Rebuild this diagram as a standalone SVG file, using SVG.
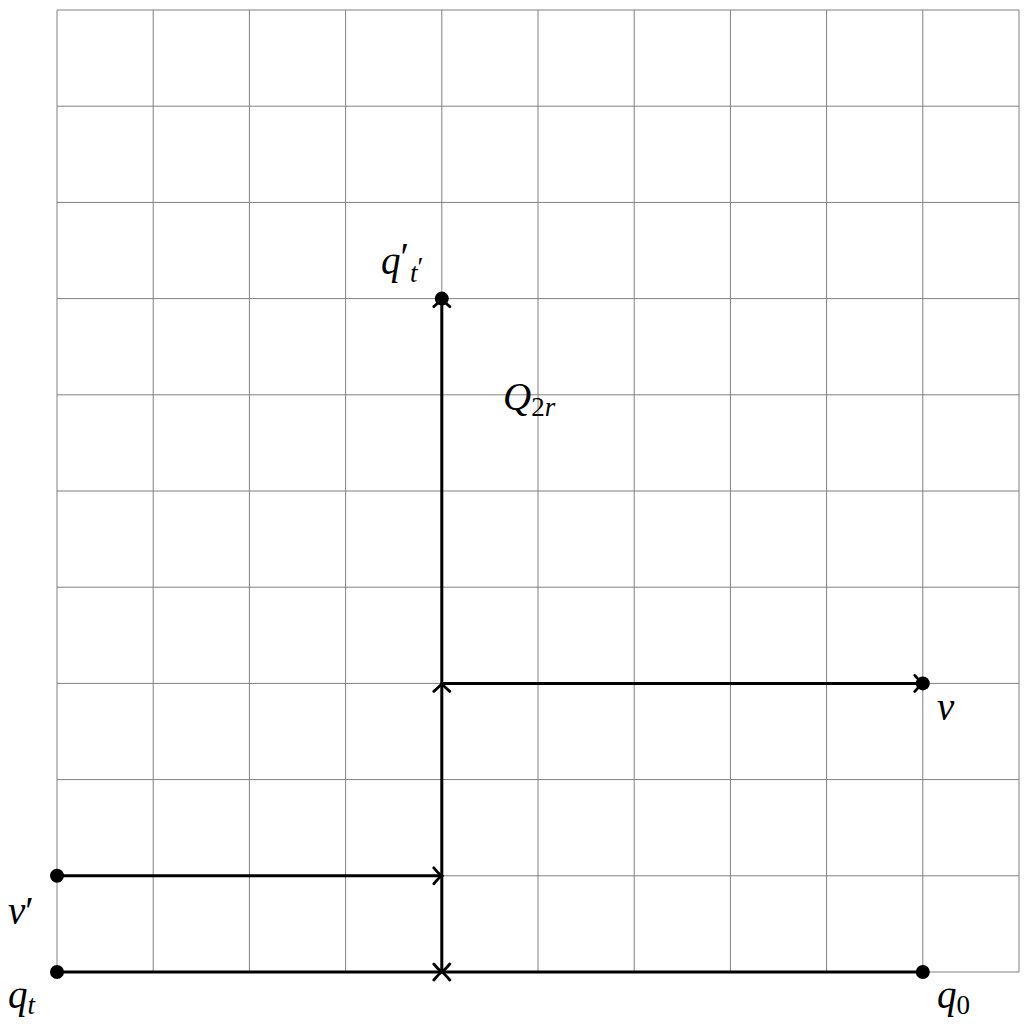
<svg xmlns="http://www.w3.org/2000/svg" width="1024" height="1024" viewBox="0 0 1024 1024">
<defs>
<marker id="to" viewBox="-10 -10 12 20" markerWidth="12" markerHeight="20" refX="0" refY="0" orient="auto" markerUnits="userSpaceOnUse">
<path d="M-8,-8 Q-2,-1 0,0 Q-2,1 -8,8" fill="none" stroke="#000" stroke-width="2.8" stroke-linecap="round"/>
</marker>
</defs>
<style>
.grid line{stroke:#808080;stroke-width:1}
.e{stroke:#000;stroke-width:3;fill:none;marker-end:url(#to)}
.d{fill:#000}
.l{font-family:"Liberation Serif","DejaVu Serif",serif;font-style:italic;font-size:39px;fill:#000}
.s{font-size:27px}
.n{font-style:normal}
</style>
<rect width="1024" height="1024" fill="#fff"/>
<g class="grid">
<line x1="57" y1="10" x2="57" y2="972"/><line x1="153.2" y1="10" x2="153.2" y2="972"/><line x1="249.4" y1="10" x2="249.4" y2="972"/><line x1="345.6" y1="10" x2="345.6" y2="972"/><line x1="441.8" y1="10" x2="441.8" y2="972"/><line x1="538" y1="10" x2="538" y2="972"/><line x1="634.2" y1="10" x2="634.2" y2="972"/><line x1="730.4" y1="10" x2="730.4" y2="972"/><line x1="826.6" y1="10" x2="826.6" y2="972"/><line x1="922.8" y1="10" x2="922.8" y2="972"/><line x1="1019" y1="10" x2="1019" y2="972"/>
<line x1="57" y1="10" x2="1019" y2="10"/><line x1="57" y1="106.2" x2="1019" y2="106.2"/><line x1="57" y1="202.4" x2="1019" y2="202.4"/><line x1="57" y1="298.6" x2="1019" y2="298.6"/><line x1="57" y1="394.8" x2="1019" y2="394.8"/><line x1="57" y1="491" x2="1019" y2="491"/><line x1="57" y1="587.2" x2="1019" y2="587.2"/><line x1="57" y1="683.4" x2="1019" y2="683.4"/><line x1="57" y1="779.6" x2="1019" y2="779.6"/><line x1="57" y1="875.8" x2="1019" y2="875.8"/><line x1="57" y1="972" x2="1019" y2="972"/>
</g>
<g id="connectors">
<line class="e" x1="57" y1="972" x2="441.8" y2="972"/>
<line class="e" x1="922.8" y1="972" x2="441.8" y2="972"/>
<line class="e" x1="441.8" y1="972" x2="441.8" y2="683.4"/>
<line class="e" x1="441.8" y1="683.4" x2="441.8" y2="298.6"/>
<line class="e" x1="57" y1="875.8" x2="441.8" y2="875.8"/>
<line class="e" x1="441.8" y1="683.4" x2="922.8" y2="683.4"/>
</g>
<g id="qt"><circle class="d" cx="57" cy="972" r="7"/><text class="l" x="8" y="1008">q<tspan class="s" dy="6">t</tspan></text></g>
<g id="q0"><circle class="d" cx="922.8" cy="972" r="7"/><text class="l" x="937" y="1008">q<tspan class="s n" dy="6">0</tspan></text></g>
<g id="vp"><circle class="d" cx="57" cy="875.8" r="7"/><text class="l" x="8" y="924">v<tspan class="n">′</tspan></text></g>
<g id="v"><circle class="d" cx="922.8" cy="683.4" r="7"/><text class="l" x="937" y="720">v</text></g>
<g id="qtp"><circle class="d" cx="441.8" cy="298.6" r="7"/><text class="l" x="381" y="274">q<tspan class="n" dy="-4">′</tspan><tspan class="s" dx="1" dy="12">t</tspan><tspan class="s n" dy="-6">′</tspan></text></g>
<g id="Q2r"><text class="l" x="503" y="410">Q<tspan class="s n" dy="6">2</tspan><tspan class="s">r</tspan></text></g>
</svg>
